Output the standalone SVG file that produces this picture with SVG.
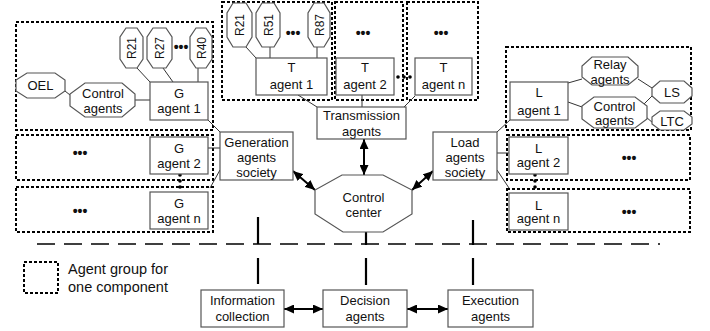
<svg xmlns="http://www.w3.org/2000/svg" width="710" height="331" viewBox="0 0 710 331">
<style>
text{font-family:"Liberation Sans",Arial,sans-serif;font-size:13px;fill:#111;text-anchor:middle}
.grp{fill:none;stroke:#000;stroke-width:2;stroke-dasharray:3,2}
.box{fill:#fff;stroke:#555;stroke-width:1.2}
.oct{fill:#fff;stroke:#555;stroke-width:1.2}
.ln{stroke:#333;stroke-width:1;fill:none}
.ar{stroke:#000;stroke-width:2;fill:none;marker-start:url(#ah);marker-end:url(#ah)}
.vl{stroke:#000;stroke-width:2.2}
.dots{font-size:14px;font-weight:bold}
.leg{font-size:14.5px;text-anchor:start}
</style>
<defs>
<marker id="ah" markerUnits="userSpaceOnUse" markerWidth="10" markerHeight="9" refX="10" refY="4.5" orient="auto-start-reverse">
<path d="M0,0 L10,4.5 L0,9 z" fill="#000"/>
</marker>
</defs>

<g id="groups">
<rect class="grp" x="16" y="22" width="197" height="108"/>
<rect class="grp" x="16" y="135" width="197" height="45"/>
<rect class="grp" x="16" y="187" width="197" height="45"/>
<rect class="grp" x="222" y="2" width="110" height="98"/>
<rect class="grp" x="335" y="2" width="68" height="98"/>
<rect class="grp" x="407" y="2" width="71" height="98"/>
<rect class="grp" x="506" y="47" width="185" height="83"/>
<rect class="grp" x="507" y="135" width="183" height="45"/>
<rect class="grp" x="507" y="189" width="183" height="43"/>
</g>

<g id="connectors">
<line class="ln" x1="137" y1="68" x2="150" y2="82"/>
<line class="ln" x1="163" y1="68" x2="173" y2="82"/>
<line class="ln" x1="198" y1="68" x2="198" y2="82"/>
<line class="ln" x1="65" y1="91" x2="70" y2="95"/>
<line class="ln" x1="135" y1="100" x2="150" y2="100"/>
<line class="ln" x1="208" y1="120" x2="220" y2="132"/>
<line class="ln" x1="208" y1="148" x2="220" y2="148"/>
<line class="ln" x1="220" y1="170" x2="210" y2="188"/>
<line class="ln" x1="246" y1="47" x2="256" y2="58"/>
<line class="ln" x1="270" y1="47" x2="270" y2="58"/>
<line class="ln" x1="317" y1="47" x2="317" y2="58"/>
<line class="ln" x1="298" y1="95" x2="317" y2="107"/>
<line class="ln" x1="362" y1="95" x2="362" y2="107"/>
<line class="ln" x1="415" y1="96" x2="404" y2="107"/>
<line class="ln" x1="497" y1="132" x2="510" y2="120"/>
<line class="ln" x1="497" y1="153" x2="509" y2="153"/>
<line class="ln" x1="497" y1="170" x2="509" y2="188"/>
<line class="ln" x1="568" y1="83" x2="582" y2="79"/>
<line class="ln" x1="568" y1="102" x2="582" y2="107"/>
<line class="ln" x1="638" y1="79" x2="652" y2="88"/>
<line class="ln" x1="644" y1="104" x2="653" y2="95"/>
<line class="ln" x1="646" y1="117" x2="653" y2="123"/>
<circle cx="180" cy="175" r="1.8"/><circle cx="180" cy="181" r="1.8"/><circle cx="180" cy="187" r="1.8"/>
<circle cx="535" cy="175" r="1.8"/><circle cx="535" cy="181" r="1.8"/><circle cx="535" cy="187" r="1.8"/>
<circle cx="398" cy="77" r="1.8"/><circle cx="404" cy="77" r="1.8"/><circle cx="410" cy="77" r="1.8"/>
<line class="ar" x1="364" y1="139" x2="364" y2="175"/>
<line class="ar" x1="293" y1="171" x2="315" y2="190"/>
<line class="ar" x1="412" y1="190" x2="433" y2="171"/>
<line class="ar" x1="284" y1="309" x2="323" y2="309"/>
<line class="ar" x1="407" y1="309" x2="448" y2="309"/>
<line x1="37" y1="244" x2="660" y2="244" stroke="#000" stroke-width="1.6" stroke-dasharray="18,9"/>
<line class="vl" x1="258" y1="217" x2="258" y2="244"/>
<line class="vl" x1="258" y1="258" x2="258" y2="284"/>
<line class="vl" x1="366" y1="220" x2="366" y2="245"/>
<line class="vl" x1="366" y1="258" x2="366" y2="285"/>
<line class="vl" x1="473" y1="220" x2="473" y2="245"/>
<line class="vl" x1="473" y1="258" x2="473" y2="285"/>
</g>

<g id="G-R21"><polygon class="oct" points="126,28 137,28 143,37 143,59 137,68 126,68 120,59 120,37"/><text transform="translate(131.5,48) rotate(-90)" y="4.5" style="font-size:12px">R21</text></g>
<g id="G-R27"><polygon class="oct" points="153,28 166,28 172,37 172,59 166,68 153,68 147,59 147,37"/><text transform="translate(159.5,48) rotate(-90)" y="4.5" style="font-size:12px">R27</text></g>
<g id="G-R40"><polygon class="oct" points="196,28 206,28 212,37 212,59 206,68 196,68 190,59 190,37"/><text transform="translate(201,48) rotate(-90)" y="4.5" style="font-size:12px">R40</text></g>
<text class="dots" x="181" y="52">•••</text>
<g id="OEL"><polygon class="oct" points="27,73 55,73 65,80 65,91 55,98 27,98 16,91 16,80"/><text x="40.5" y="90">OEL</text></g>
<g id="G-control"><polygon class="oct" points="85,83 122,83 135,94 135,106 122,117 85,117 70,106 70,94"/><text x="103" y="97.5">Control</text><text x="103" y="113">agents</text></g>
<g id="G-agent-1"><rect class="box" x="150" y="82" width="58" height="38"/><text x="179" y="97.5">G</text><text x="179" y="113">agent 1</text></g>
<g id="G-agent-2"><rect class="box" x="150" y="137" width="58" height="37"/><text x="179" y="152.5">G</text><text x="179" y="167.5">agent 2</text><text class="dots" x="80" y="157.5">•••</text></g>
<g id="G-agent-n"><rect class="box" x="150" y="192" width="58" height="37"/><text x="179" y="207.5">G</text><text x="179" y="222.5">agent n</text><text class="dots" x="80" y="215.5">•••</text></g>
<g id="Gen-society"><rect class="box" x="220" y="132" width="73" height="48"/><text x="256.5" y="146.5">Generation</text><text x="256.5" y="161.5">agents</text><text x="256.5" y="177">society</text></g>

<g id="T-R21"><polygon class="oct" points="233,3 246,3 252,13 252,37 246,47 233,47 227,37 227,13"/><text transform="translate(239.5,25) rotate(-90)" y="4.5" style="font-size:12px">R21</text></g>
<g id="T-R51"><polygon class="oct" points="262,3 274,3 280,13 280,37 274,47 262,47 256,37 256,13"/><text transform="translate(268,25) rotate(-90)" y="4.5" style="font-size:12px">R51</text></g>
<g id="T-R87"><polygon class="oct" points="314,3 324,3 330,13 330,37 324,47 314,47 308,37 308,13"/><text transform="translate(319,25) rotate(-90)" y="4.5" style="font-size:12px">R87</text></g>
<text class="dots" x="293" y="38">•••</text>
<g id="T-agent-1"><rect class="box" x="256" y="58" width="71" height="37"/><text x="291.5" y="72">T</text><text x="291.5" y="89">agent 1</text></g>
<g id="T-agent-2"><rect class="box" x="336" y="58" width="58" height="37"/><text x="365" y="72">T</text><text x="365" y="89">agent 2</text><text class="dots" x="363" y="38">•••</text></g>
<g id="T-agent-n"><rect class="box" x="415" y="58" width="57" height="37"/><text x="443.5" y="72">T</text><text x="443.5" y="89">agent n</text><text class="dots" x="441" y="38">•••</text></g>
<g id="Trans"><rect class="box" x="317" y="107" width="89" height="32"/><text x="361.5" y="120">Transmission</text><text x="361.5" y="135.5">agents</text></g>

<g id="Control-center"><polygon class="oct" points="342,175 383,175 412,190 412,214 383,232 343,232 315,214 315,190"/><text x="363.5" y="201.5">Control</text><text x="363.5" y="216.5">center</text></g>

<g id="Load-society"><rect class="box" x="433" y="132" width="64" height="48"/><text x="465" y="146.5">Load</text><text x="465" y="161.5">agents</text><text x="465" y="177">society</text></g>
<g id="L-agent-1"><rect class="box" x="510" y="82" width="58" height="38"/><text x="539" y="96.5">L</text><text x="539" y="114.5">agent 1</text></g>
<g id="Relay"><polygon class="oct" points="592,57 628,57 638,66 638,77 628,85 592,85 582,77 582,66"/><text x="610" y="68.5">Relay</text><text x="610" y="84">agents</text></g>
<g id="L-control"><polygon class="oct" points="594,97 635,97 647,106 647,119 635,128 594,128 582,119 582,106"/><text x="614.5" y="111">Control</text><text x="614.5" y="125">agents</text></g>
<g id="LS"><polygon class="oct" points="660,81 684,81 692,88 692,96 684,103 660,103 652,96 652,88"/><text x="672" y="97">LS</text></g>
<g id="LTC"><polygon class="oct" points="660,111 684,111 692,117 692,124 684,130 660,130 652,124 652,117"/><text x="672" y="125.5">LTC</text></g>
<g id="L-agent-2"><rect class="box" x="509" y="137" width="59" height="37"/><text x="538.5" y="152.5">L</text><text x="538.5" y="166.5">agent 2</text><text class="dots" x="629" y="162.5">•••</text></g>
<g id="L-agent-n"><rect class="box" x="509" y="193" width="59" height="37"/><text x="538.5" y="209.5">L</text><text x="538.5" y="223">agent n</text><text class="dots" x="629" y="216.5">•••</text></g>

<g id="Info"><rect class="box" x="201" y="290" width="83" height="37"/><text x="242.5" y="305">Information</text><text x="242.5" y="321">collection</text></g>
<g id="Decision"><rect class="box" x="323" y="290" width="84" height="37"/><text x="365" y="305">Decision</text><text x="365" y="321">agents</text></g>
<g id="Execution"><rect class="box" x="448" y="290" width="85" height="37"/><text x="490.5" y="305">Execution</text><text x="490.5" y="321">agents</text></g>

<g id="legend"><rect class="grp" x="24" y="262" width="34" height="31"/><text class="leg" x="68" y="274">Agent group for</text><text class="leg" x="68" y="292">one component</text></g>
</svg>
